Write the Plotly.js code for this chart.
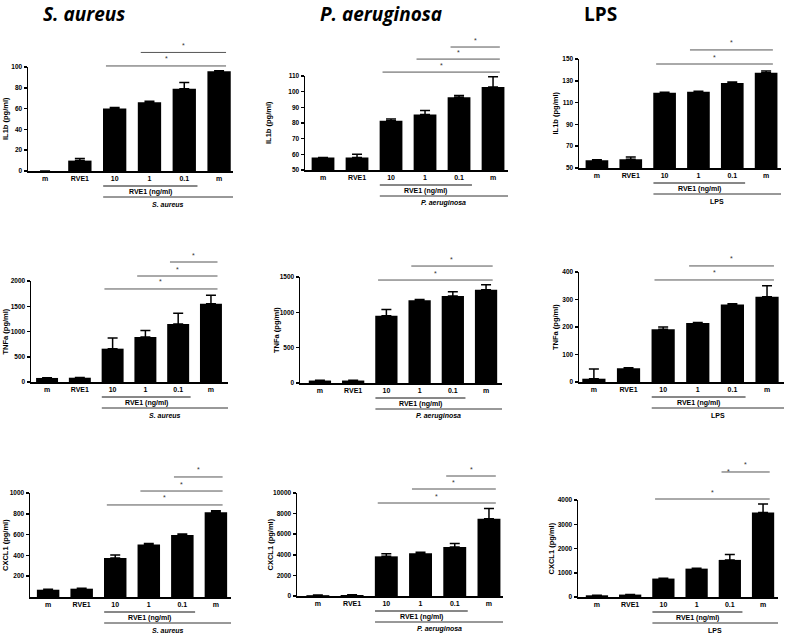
<!DOCTYPE html>
<html><head><meta charset="utf-8">
<script src="https://cdn.plot.ly/plotly-3.0.1.min.js"></script>
<style>body{margin:0;padding:0;background:#fff}#chart{width:785px;height:634px}</style>
</head><body><div id="chart"></div>
<script>
// ---------- data ----------
const xLabels = ['m', 'RVE1', '10', '1', '0.1', 'm'];
const doseLabel = 'RVE1 (ng/ml)';
const stimuli = ['S. aureus', 'P. aeruginosa', 'LPS'];
const stimItalic = [true, true, false];
const cytokines = ['IL1b (pg/ml)', 'TNFa (pg/ml)', 'CXCL1 (pg/ml)'];

const il1bSa = [0, 10, 60, 66, 79, 96];
const il1bSaErr = [0, 2, 1, 1, 6, 0.5];
const il1bPa = [58, 58, 81.5, 85.5, 96.5, 103];
const il1bPaErr = [0, 2, 1, 2.5, 1, 6.5];
const il1bLps = [57, 58, 119, 120, 128, 137.5];
const il1bLpsErr = [0.5, 2, 0.5, 0.5, 1, 1.5];

const tnfSa = [80, 85, 660, 890, 1150, 1550];
const tnfSaErr = [5, 5, 210, 130, 210, 170];
const tnfPa = [35, 35, 950, 1170, 1230, 1320];
const tnfPaErr = [3, 3, 90, 10, 60, 70];
const tnfLps = [12, 50, 192, 215, 282, 310];
const tnfLpsErr = [35, 2, 8, 1, 3, 40];

const cxclSa = [70, 80, 375, 505, 595, 815];
const cxclSaErr = [5, 5, 30, 10, 10, 15];
const cxclPa = [80, 100, 3850, 4150, 4750, 7500];
const cxclPaErr = [10, 20, 250, 100, 350, 1000];
const cxclLps = [70, 100, 760, 1170, 1530, 3480];
const cxclLpsErr = [5, 5, 10, 20, 220, 350];

// significance brackets: [from bar, to bar, height (data units), line drawn]
const sigIl1bSa = [[3, 5, 114, true], [2, 5, 101, true]];
const sigIl1bPa = [[4, 5, 128.5, true], [3, 5, 120.8, true], [2, 5, 112.5, true]];
const sigIl1bLps = [[3, 5, 158.3, true], [2, 5, 145.4, true]];
const sigTnfSa = [[4, 5, 2376, true], [3, 5, 2099, true], [2, 5, 1842, true]];
const sigTnfPa = [[3, 5, 1655, true], [2, 5, 1457, true]];
const sigTnfLps = [[3, 5, 422, true], [2, 5, 371, true]];
const sigCxclSa = [[4, 5, 1154, true], [3, 5, 1019, true], [2, 5, 885, true]];
const sigCxclPa = [[4, 5, 11650, true], [3, 5, 10388, true], [2, 5, 9029, true]];
const sigCxclLps = [[4, 5, 5155, true], [3, 5, 4866, false], [2, 5, 4041, true]];

const panels = [
  {y: il1bSa, e: il1bSaErr, sig: sigIl1bSa, yr: [0, 100], dt: 20},
  {y: il1bPa, e: il1bPaErr, sig: sigIl1bPa, yr: [50, 110], dt: 10},
  {y: il1bLps, e: il1bLpsErr, sig: sigIl1bLps, yr: [50, 150], dt: 20},
  {y: tnfSa, e: tnfSaErr, sig: sigTnfSa, yr: [0, 2000], dt: 500},
  {y: tnfPa, e: tnfPaErr, sig: sigTnfPa, yr: [0, 1500], dt: 500},
  {y: tnfLps, e: tnfLpsErr, sig: sigTnfLps, yr: [0, 400], dt: 100},
  {y: cxclSa, e: cxclSaErr, sig: sigCxclSa, yr: [0, 1000], dt: 200, skipZero: true},
  {y: cxclPa, e: cxclPaErr, sig: sigCxclPa, yr: [0, 10000], dt: 2000},
  {y: cxclLps, e: cxclLpsErr, sig: sigCxclLps, yr: [0, 4000], dt: 1000}
];

// ---------- layout geometry (pixels) ----------
const W = 785, H = 634;
// [left, right, top, bottom, xRange0, xRange1, yTitleX]
const geom = [
  [28, 233, 67, 171, -0.49, 5.40, 6],
  [305, 508, 76, 170, -0.53, 5.44, 268],
  [579, 781, 59, 168, -0.53, 5.44, 555],
  [31, 228, 281, 382, -0.49, 5.52, 5],
  [300, 502, 277, 383, -0.60, 5.48, 276],
  [579, 784, 272, 382, -0.43, 5.49, 555],
  [30, 231, 493, 597, -0.54, 5.45, 5],
  [297, 503, 493, 596, -0.61, 5.41, 270],
  [578, 778, 500, 597, -0.57, 5.45, 551]
];
const titleX = [84, 381, 600];

const FONT = 'Liberation Sans';
const px = v => v / W;
const py = v => 1 - v / H;

const traces = [];
const layout = {
  width: W, height: H,
  margin: {l: 0, r: 0, t: 0, b: 0},
  paper_bgcolor: '#fff', plot_bgcolor: 'rgba(0,0,0,0)',
  showlegend: false,
  font: {family: FONT, color: '#000'},
  shapes: [], annotations: []
};

panels.forEach((p, k) => {
  const g = geom[k];
  const [L, R, T, B, x0, x1, ytx] = g;
  const row = Math.floor(k / 3), col = k % 3;
  const sfx = k === 0 ? '' : String(k + 1);
  const xa = 'x' + sfx, ya = 'y' + sfx;
  const xIdx = xLabels.map((_, i) => i);

  traces.push({
    type: 'bar', x: xIdx, y: p.y, width: 0.67,
    xaxis: xa, yaxis: ya,
    marker: {color: '#000', line: {width: 0}},
    error_y: {type: 'data', symmetric: false, array: p.e, arrayminus: p.e.map(() => 0),
      color: '#000', thickness: 1.5, width: 5},
    hoverinfo: 'skip'
  });

  const tv = [];
  for (let v = p.yr[0]; v <= p.yr[1] + 1e-9; v += p.dt) {
    if (p.skipZero && v === 0) continue;
    tv.push(v);
  }

  layout['xaxis' + sfx] = {
    domain: [px(L), px(R)], range: [x0, x1], anchor: ya,
    tickvals: xIdx, ticktext: xLabels, ticks: '',
    showline: true, linecolor: '#000', linewidth: 1.5,
    showgrid: false, zeroline: false, fixedrange: true,
    tickfont: {family: FONT, size: 7, weight: 'bold', color: '#000'}
  };
  layout['yaxis' + sfx] = {
    domain: [py(B), py(T)], range: p.yr, anchor: xa,
    tickvals: tv, ticktext: tv.map(String), ticks: 'outside', ticklen: 3, tickwidth: 1.5, tickcolor: '#000',
    showline: true, linecolor: '#000', linewidth: 1.5,
    showgrid: false, zeroline: false, fixedrange: true,
    tickfont: {family: FONT, size: 6.5, weight: 'bold', color: '#000'}
  };

  const barPx = i => L + (i - x0) / (x1 - x0) * (R - L);
  const valPy = v => B - (v - p.yr[0]) / (p.yr[1] - p.yr[0]) * (B - T);

  // y title
  layout.annotations.push({
    xref: 'paper', yref: 'paper', x: px(ytx), y: py((T + B) / 2),
    text: cytokines[row], textangle: -90, showarrow: false,
    xanchor: 'center', yanchor: 'middle',
    font: {family: FONT, size: 7.5, weight: 'bold', color: '#000'}
  });

  // significance brackets
  p.sig.forEach(([a, b, h, drawLine]) => {
    const xs = barPx(a - 0.25), xe = barPx(b + 0.2), yy = valPy(h);
    if (drawLine) {
      layout.shapes.push({type: 'line', xref: 'paper', yref: 'paper',
        x0: px(xs), x1: px(xe), y0: py(yy), y1: py(yy),
        line: {color: '#555', width: 1}});
    }
    layout.annotations.push({xref: 'paper', yref: 'paper',
      x: px((xs + xe) / 2), y: py(yy - 7), text: '*', showarrow: false,
      xanchor: 'center', yanchor: 'middle',
      font: {family: FONT, size: 7, color: '#333'}});
  });

  // group labels under the axis
  const l1s = barPx(2 - 0.33), l1e = barPx(4 + 0.38);
  layout.shapes.push({type: 'line', xref: 'paper', yref: 'paper',
    x0: px(l1s), x1: px(l1e), y0: py(B + 15), y1: py(B + 15),
    line: {color: '#111', width: 1}});
  layout.annotations.push({xref: 'paper', yref: 'paper',
    x: px((l1s + l1e) / 2), y: py(B + 21), text: doseLabel, showarrow: false,
    xanchor: 'center', yanchor: 'middle',
    font: {family: FONT, size: 7, weight: 'bold', color: '#000'}});
  layout.shapes.push({type: 'line', xref: 'paper', yref: 'paper',
    x0: px(l1s), x1: px(R), y0: py(B + 26), y1: py(B + 26),
    line: {color: '#333', width: 1}});
  layout.annotations.push({xref: 'paper', yref: 'paper',
    x: px((l1s + R) / 2), y: py(B + 33), text: stimuli[col], showarrow: false,
    xanchor: 'center', yanchor: 'middle',
    font: {family: FONT, size: 7, weight: 'bold', style: stimItalic[col] ? 'italic' : 'normal', color: '#000'}});
});

// column titles
stimuli.forEach((s, c) => {
  layout.annotations.push({xref: 'paper', yref: 'paper',
    x: px(titleX[c]), y: py(14), text: s, showarrow: false,
    xanchor: 'center', yanchor: 'middle',
    font: {family: 'Open Sans', size: 19, weight: 'bold',
      style: stimItalic[c] ? 'italic' : 'normal', color: '#000'}});
});

Plotly.newPlot('chart', traces, layout, {displayModeBar: false, staticPlot: true});
</script>
</body></html>
